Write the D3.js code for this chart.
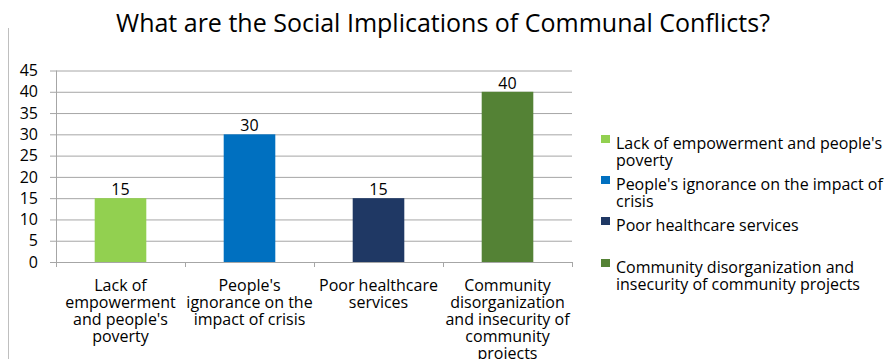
<!DOCTYPE html>
<html>
<head>
<meta charset="utf-8">
<script src="https://cdn.jsdelivr.net/npm/d3@7"></script>
<style>
  body { margin: 0; background: #fff; }
  text { font-family: "Open Sans", sans-serif; fill: #000; }
</style>
</head>
<body>
<div id="chart"></div>
<script>
// donnees du graphique
const categories = [
  "Lack of empowerment and people's poverty",
  "People's ignorance on the impact of crisis",
  "Poor healthcare services",
  "Community disorganization and insecurity of community projects"
];
const values = [15, 30, 15, 40];
const colors = ["#92d050", "#0070c0", "#1f3864", "#548235"];
const yTicks = [0, 5, 10, 15, 20, 25, 30, 35, 40, 45];
// etiquettes sous l'axe (coupées comme dans l'original)
const axisLabels = [
  ["Lack of", "empowerment", "and people's", "poverty"],
  ["People's", "ignorance on the", "impact of crisis"],
  ["Poor healthcare", "services"],
  ["Community", "disorganization", "and insecurity of", "community", "projects"]
];
const legendLabels = [
  ["Lack of empowerment and people's", "poverty"],
  ["People's ignorance on the impact of", "crisis"],
  ["Poor healthcare services"],
  ["Community disorganization and", "insecurity of community projects"]
];

const width = 893, height = 359;
const plotLeft = 56, plotRight = 572, plotTop = 70.5, plotBottom = 262;

const svg = d3.select("#chart").append("svg")
  .attr("width", width)
  .attr("height", height);

// bordure gauche
svg.append("line")
  .attr("x1", 8.5).attr("x2", 8.5)
  .attr("y1", 28).attr("y2", height)
  .attr("stroke", "#bfbfbf");

// titre
svg.append("text")
  .attr("x", 443).attr("y", 32)
  .attr("text-anchor", "middle")
  .style("font-size", "25px")
  .text("What are the Social Implications of Communal Conflicts?");

const x = d3.scaleBand()
  .domain(categories)
  .range([plotLeft, plotRight])
  .paddingInner(0.6)
  .paddingOuter(0.3);

const xBand = d3.scaleBand().domain(categories).range([plotLeft, plotRight]);

const y = d3.scaleLinear().domain([0, 45]).range([plotBottom, plotTop]);

// grille + axe y
const yAxis = d3.axisLeft(y)
  .tickValues(yTicks)
  .tickSize(-(plotRight - plotLeft))
  .tickPadding(18)
  .tickFormat(d3.format("d"));

const gy = svg.append("g")
  .attr("transform", `translate(${plotLeft},0)`)
  .call(yAxis);
gy.select(".domain").remove();
gy.selectAll(".tick line")
  .attr("x1", -6)
  .attr("stroke", "#a6a6a6");
gy.selectAll(".tick text")
  .style("font-size", "16px")
  .style("font-family", "'Open Sans', sans-serif")
  .attr("fill", "#000");

// axe vertical
svg.append("line")
  .attr("x1", plotLeft + 0.5).attr("x2", plotLeft + 0.5)
  .attr("y1", plotTop).attr("y2", plotBottom + 4)
  .attr("stroke", "#a6a6a6");

// axe x
svg.append("line")
  .attr("x1", plotLeft).attr("x2", plotRight)
  .attr("y1", plotBottom + 0.5).attr("y2", plotBottom + 0.5)
  .attr("stroke", "#a6a6a6");
const tickPos = categories.map(c => xBand(c)).concat([plotRight]);
svg.selectAll(".xtick")
  .data(tickPos)
  .enter()
  .append("line")
  .attr("class", "xtick")
  .attr("x1", d => d + 0.5).attr("x2", d => d + 0.5)
  .attr("y1", plotBottom).attr("y2", plotBottom + 5)
  .attr("stroke", "#a6a6a6");

// barres
svg.selectAll("rect.bar")
  .data(values)
  .enter()
  .append("rect")
  .attr("class", "bar")
  .attr("x", (d, i) => x(categories[i]))
  .attr("y", d => y(d))
  .attr("width", x.bandwidth())
  .attr("height", d => plotBottom - y(d))
  .attr("fill", (d, i) => colors[i]);

// valeurs
svg.selectAll(".val")
  .data(values)
  .enter()
  .append("text")
  .attr("class", "val")
  .attr("x", (d, i) => x(categories[i]) + x.bandwidth() / 2)
  .attr("y", d => y(d) - 3)
  .attr("text-anchor", "middle")
  .style("font-size", "16px")
  .text(d => d);

// etiquettes categories
axisLabels.forEach(function (lines, i) {
  const cx = xBand(categories[i]) + xBand.bandwidth() / 2;
  const t = svg.append("text")
    .attr("text-anchor", "middle")
    .style("font-size", "16px");
  lines.forEach(function (l, j) {
    t.append("tspan")
      .attr("x", cx)
      .attr("y", 291 + j * 17)
      .text(l);
  });
});

// legende
const legendY = [143, 184, 225, 267];
legendLabels.forEach(function (lines, i) {
  svg.append("rect")
    .attr("x", 601).attr("y", legendY[i] - 8)
    .attr("width", 9).attr("height", 8)
    .attr("fill", colors[i]);
  const t = svg.append("text").style("font-size", "16px");
  lines.forEach(function (l, j) {
    t.append("tspan")
      .attr("x", 616)
      .attr("y", legendY[i] + 6 + j * 17)
      .text(l);
  });
});
</script>
</body>
</html>
